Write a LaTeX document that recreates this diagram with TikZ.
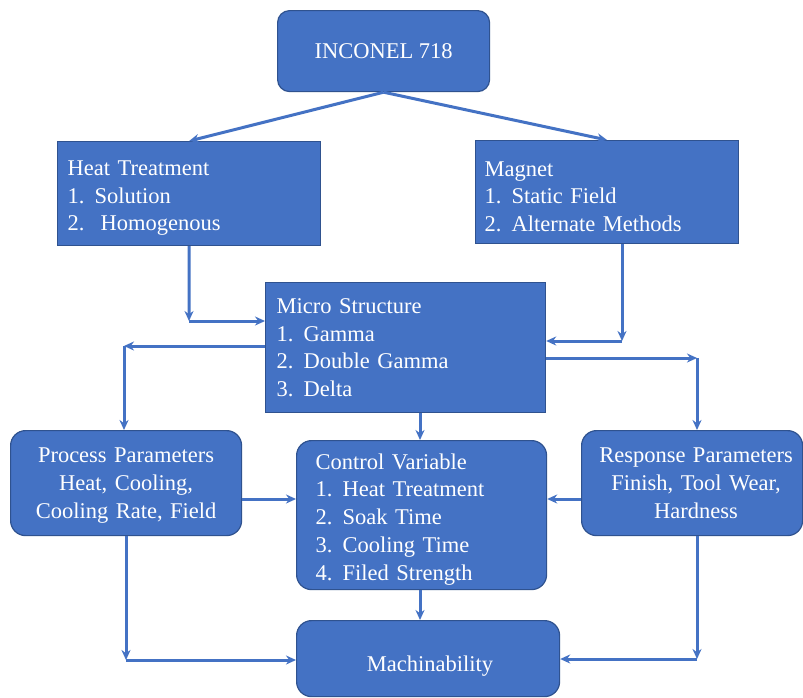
\documentclass[tikz,border=0pt]{standalone}
\usepackage{fontspec}
\setmainfont{Liberation Serif}
\usetikzlibrary{arrows.meta}
\definecolor{boxc}{HTML}{4472C4}
\definecolor{bordc}{HTML}{2F528F}
\definecolor{linec}{HTML}{4472C4}
\newcommand{\itm}[1]{\makebox[27pt][l]{#1}}
\begin{document}
\begin{tikzpicture}[x=1pt,y=-1pt,
  box/.style={draw=bordc, fill=boxc, line width=1.2pt, text=white, inner sep=0pt,
    anchor=north west, font=\rmfamily\fontsize{22.5}{27.7}\selectfont},
  rbox/.style={box, rounded corners=15pt},
  arr/.style={draw=linec, line width=3pt, -{Stealth[length=10pt,width=9pt]}}]
\useasboundingbox (0,0) rectangle (803,697);
\fill[white] (0,0) rectangle (803,697);
% nodes
\node[box, rounded corners=12pt, minimum width=212pt, minimum height=81pt, align=center] (inc) at (277,10) {INCONEL 718};
\node[box, minimum width=263pt, minimum height=104pt, text width=243pt, align=left] (heat) at (57,141)
  {\rule{0pt}{24pt}Heat Treatment\\\itm{1.}Solution\\\itm{2.}\hspace{6pt}Homogenous};
\node[box, minimum width=263pt, minimum height=103pt, text width=245pt, align=left] (mag) at (475,140)
  {\rule{0pt}{24pt}Magnet\\\itm{1.}Static Field\\\itm{2.}Alternate Methods};
\node[box, minimum width=280pt, minimum height=130pt, text width=258pt, align=left] (micro) at (265,282)
  {Micro Structure\\\itm{1.}Gamma\\\itm{2.}Double Gamma\\\itm{3.}Delta};
\node[rbox, minimum width=231pt, minimum height=105pt, text width=220pt, align=center] (proc) at (10,430)
  {\rule{0pt}{20pt}Process Parameters\\Heat, Cooling,\\Cooling Rate, Field};
\node[rbox, minimum width=250pt, minimum height=149pt, text width=212pt, align=left] (ctrl) at (296,440)
  {\rule{0pt}{24pt}Control Variable\\\itm{1.}Heat Treatment\\\itm{2.}Soak Time\\\itm{3.}Cooling Time\\\itm{4.}Filed Strength};
\node[rbox, minimum width=221pt, minimum height=105pt, text width=215pt, align=center] (resp) at (581,430)
  {\hspace{8pt}Response Parameters\\\hspace{8pt}Finish, Tool Wear,\\\hspace{8pt}Hardness};
\node[rbox, minimum width=263pt, minimum height=76pt] (mach) at (296,620) {};
\node[text=white, font=\rmfamily\fontsize{22.5}{27.7}\selectfont, inner sep=0pt] (machtxt) at (430,666) {Machinability};
% corner coordinates
\coordinate (c1) at (189,321);
\coordinate (c2) at (622,341);
\coordinate (c3) at (124,346);
\coordinate (c4) at (697,358);
\coordinate (c5) at (126,660);
\coordinate (c6) at (697,659);
\coordinate (pc) at (0,499);
% connectors
\draw[arr] (inc.south) -- (heat.north);
\draw[arr] (inc.south) -- (mag.north);
\draw[arr] (heat.south) -- (c1);
\draw[arr] (c1) -- (c1 -| micro.west);
\draw[arr] (c2 |- mag.south) -- (c2);
\draw[arr] (c2) -- (c2 -| micro.east);
\draw[arr] (micro.west |- c3) -- (c3);
\draw[arr] (c3) -- (c3 |- proc.north);
\draw[arr] (micro.east |- c4) -- (c4);
\draw[arr] (c4) -- (c4 |- resp.north);
\draw[arr] (micro.south -| 420,0) -- (ctrl.north -| 420,0);
\draw[arr] (proc.east |- pc) -- (ctrl.west |- pc);
\draw[arr] (resp.west |- pc) -- (ctrl.east |- pc);
\draw[arr] (ctrl.south -| 420,0) -- (mach.north -| 420,0);
\draw[arr] (c5 |- proc.south) -- (c5);
\draw[arr] (c5) -- (c5 -| mach.west);
\draw[arr] (c6 |- resp.south) -- (c6);
\draw[arr] (c6) -- (c6 -| mach.east);
\end{tikzpicture}
\end{document}
